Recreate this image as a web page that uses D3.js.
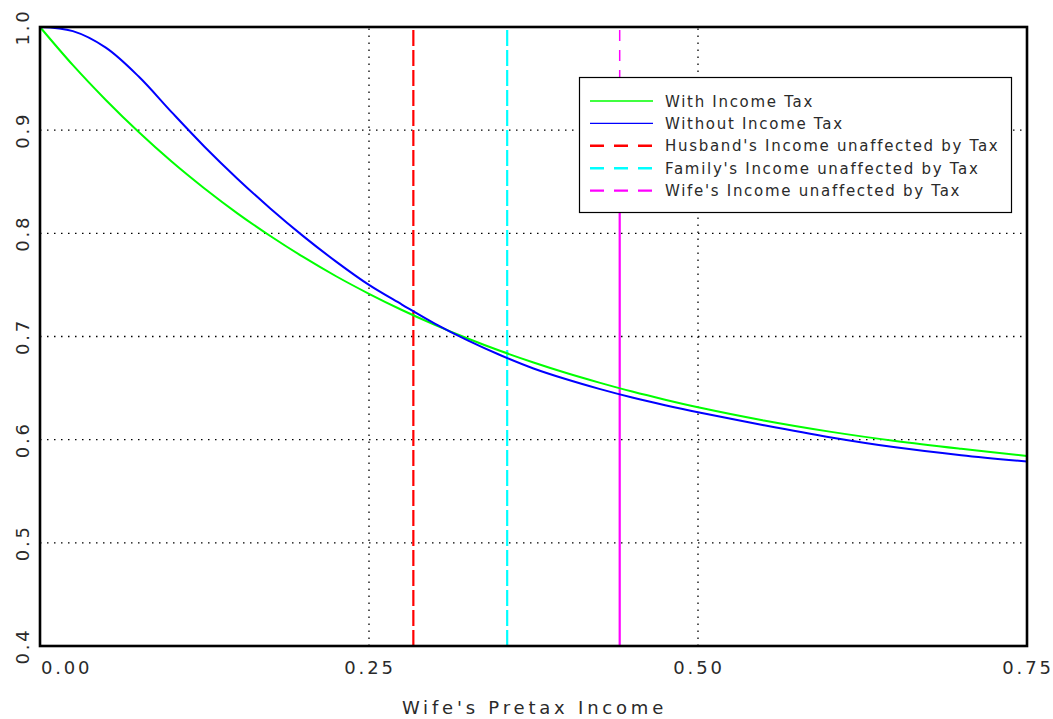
<!DOCTYPE html>
<html>
<head>
<meta charset="utf-8">
<script src="https://cdn.jsdelivr.net/npm/d3@7/dist/d3.min.js"></script>
<style>
  html, body { margin: 0; padding: 0; background: #fff; }
  svg { display: block; }
  text { font-family: "DejaVu Sans", sans-serif; fill: #2a2a2a; }
</style>
</head>
<body>
<svg id="chart" width="1053" height="719"></svg>
<script>
// ---- data ----
const incomeX = [0, 0.025, 0.05, 0.075, 0.1, 0.125, 0.15, 0.175, 0.2, 0.225, 0.25, 0.275, 0.3, 0.325, 0.35, 0.375, 0.4, 0.425, 0.45, 0.475, 0.5, 0.55, 0.6, 0.65, 0.7, 0.75];
const withTax = [1.0, 0.963, 0.9293, 0.8982, 0.8696, 0.8435, 0.8194, 0.7974, 0.7771, 0.7584, 0.7414, 0.7257, 0.7113, 0.6981, 0.6859, 0.6748, 0.6646, 0.6553, 0.6466, 0.6387, 0.6314, 0.6186, 0.6078, 0.5987, 0.5911, 0.5842];
const withoutTax = [1.0, 0.996, 0.980, 0.952, 0.9175, 0.884, 0.853, 0.8241, 0.7973, 0.7726, 0.750, 0.731, 0.7125, 0.6962, 0.6818, 0.6690, 0.6585, 0.6492, 0.6408, 0.6334, 0.6265, 0.6140, 0.6024, 0.5926, 0.5850, 0.5788];
const husbandUnaffected = 0.2837;
const familyUnaffected = 0.3550;
const wifeUnaffected = 0.4405;
const wifeSolidTop = 0.85;
const xTicks = [0, 0.25, 0.5, 0.75];
const xTickLabels = ["0.00", "0.25", "0.50", "0.75"];
const yTicks = [0.4, 0.5, 0.6, 0.7, 0.8, 0.9, 1.0];
const yTickLabels = ["0.4", "0.5", "0.6", "0.7", "0.8", "0.9", "1.0"];
const legendLabels = ["With Income Tax", "Without Income Tax", "Husband's Income unaffected by Tax", "Family's Income unaffected by Tax", "Wife's Income unaffected by Tax"];
const legendColors = ["#00ff00", "#0000ff", "#ff0000", "#00ffff", "#ff00ff"];
const legendDashed = [false, false, true, true, true];
const xTitle = "Wife's Pretax Income";

// ---- layout ----
const W = 1053, H = 719;
const m = {left: 40, top: 27, right: 26, bottom: 73};
const svg = d3.select("#chart");
const x = d3.scaleLinear().domain([0, 0.75]).range([m.left, W - m.right]);
const y = d3.scaleLinear().domain([0.4, 1.0]).range([H - m.bottom, m.top]);

// gridlines
const grid = svg.append("g").attr("stroke", "#000").attr("stroke-width", 1.3).attr("stroke-dasharray", "1.5,5.5");
grid.selectAll("line.gx").data([0.25, 0.5]).join("line")
  .attr("x1", d => x(d)).attr("x2", d => x(d)).attr("y1", y(0.4)).attr("y2", y(1.0));
grid.selectAll("line.gy").data([0.5, 0.6, 0.7, 0.8, 0.9]).join("line")
  .attr("x1", x(0)).attr("x2", x(0.75)).attr("y1", d => y(d)).attr("y2", d => y(d));

// vertical reference lines
const vlines = svg.append("g").attr("stroke-width", 2.2).attr("fill", "none");
vlines.append("line").attr("x1", x(husbandUnaffected)).attr("x2", x(husbandUnaffected))
  .attr("y1", y(1.0) + 3).attr("y2", y(0.4)).attr("stroke", "#ff0000").attr("stroke-dasharray", "16,4");
vlines.append("line").attr("x1", x(familyUnaffected)).attr("x2", x(familyUnaffected))
  .attr("y1", y(1.0) + 3).attr("y2", y(0.4)).attr("stroke", "#00ffff").attr("stroke-dasharray", "16,4");
vlines.append("line").attr("x1", x(wifeUnaffected)).attr("x2", x(wifeUnaffected))
  .attr("y1", y(1.0) + 3).attr("y2", y(wifeSolidTop)).attr("stroke", "#ff00ff").attr("stroke-width", 1.5).attr("stroke-dasharray", "11,9");
vlines.append("line").attr("x1", x(wifeUnaffected)).attr("x2", x(wifeUnaffected))
  .attr("y1", y(wifeSolidTop)).attr("y2", y(0.4)).attr("stroke", "#ff00ff");

// curves
const line = d3.line().x((d, i) => x(incomeX[i])).y(d => y(d)).curve(d3.curveCatmullRom.alpha(0.5));
svg.append("path").datum(withTax).attr("d", line).attr("fill", "none").attr("stroke", "#00ff00").attr("stroke-width", 2);
svg.append("path").datum(withoutTax).attr("d", line).attr("fill", "none").attr("stroke", "#0000ff").attr("stroke-width", 2);

// frame
svg.append("rect").attr("x", x(0)).attr("y", y(1.0)).attr("width", x(0.75) - x(0)).attr("height", y(0.4) - y(1.0))
  .attr("fill", "none").attr("stroke", "#000").attr("stroke-width", 2.6);

// x tick labels
svg.append("g").selectAll("text").data(xTicks).join("text")
  .attr("x", (d, i) => i === 0 ? x(d) + 1 : x(d) + 1)
  .attr("y", 674)
  .attr("text-anchor", (d, i) => i === 0 ? "start" : "middle")
  .attr("font-size", 18).attr("letter-spacing", 2.8)
  .text((d, i) => xTickLabels[i]);

// y tick labels (rotated)
svg.append("g").selectAll("text").data(yTicks).join("text")
  .attr("transform", d => `translate(29,${y(d)}) rotate(-90)`)
  .attr("text-anchor", "middle")
  .attr("font-size", 18).attr("letter-spacing", 2.8)
  .text((d, i) => yTickLabels[i]);

// x title
svg.append("text").attr("x", (x(0) + x(0.75)) / 2 + 1).attr("y", 714)
  .attr("text-anchor", "middle").attr("font-size", 18).attr("letter-spacing", 3.8)
  .text(xTitle);

// legend
const lg = svg.append("g");
lg.append("rect").attr("x", 579.5).attr("y", 77.5).attr("width", 432).attr("height", 135)
  .attr("fill", "#fff").attr("stroke", "#000").attr("stroke-width", 1.2);
legendLabels.forEach((lab, i) => {
  const cy = 101 + i * 22.4;
  lg.append("line").attr("x1", 590).attr("x2", 653).attr("y1", cy).attr("y2", cy)
    .attr("stroke", legendColors[i]).attr("stroke-width", legendDashed[i] ? 2.4 : 1.4)
    .attr("stroke-dasharray", legendDashed[i] ? "14,10" : null);
  lg.append("text").attr("x", 665).attr("y", cy + 5.5).attr("font-size", 15).attr("letter-spacing", 1.7)
    .text(lab);
});
</script>
</body>
</html>
